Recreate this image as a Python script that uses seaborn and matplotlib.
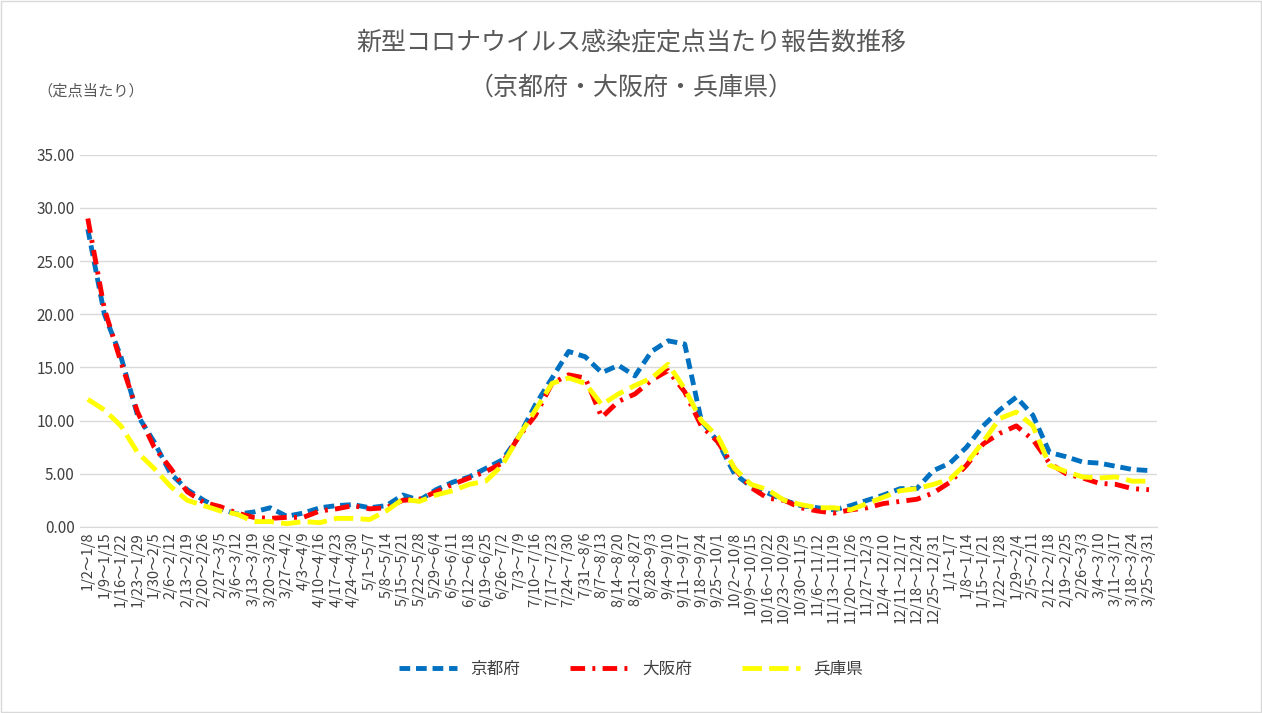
import matplotlib
matplotlib.use("Agg")
import matplotlib.pyplot as plt
import seaborn as sns
import pandas as pd

plt.rcParams["font.family"] = ["Noto Sans CJK JP", "DejaVu Sans"]

weeks = ["1/2～1/8","1/9～1/15","1/16～1/22","1/23～1/29","1/30～2/5","2/6～2/12","2/13～2/19",
 "2/20～2/26","2/27～3/5","3/6～3/12","3/13～3/19","3/20～3/26","3/27～4/2","4/3～4/9",
 "4/10～4/16","4/17～4/23","4/24～4/30","5/1～5/7","5/8～5/14","5/15～5/21","5/22～5/28",
 "5/29～6/4","6/5～6/11","6/12～6/18","6/19～6/25","6/26～7/2","7/3～7/9","7/10～7/16",
 "7/17～7/23","7/24～7/30","7/31～8/6","8/7～8/13","8/14～8/20","8/21～8/27","8/28～9/3",
 "9/4～9/10","9/11～9/17","9/18～9/24","9/25～10/1","10/2～10/8","10/9～10/15","10/16～10/22",
 "10/23～10/29","10/30～11/5","11/6～11/12","11/13～11/19","11/20～11/26","11/27～12/3",
 "12/4～12/10","12/11～12/17","12/18～12/24","12/25～12/31","1/1～1/7","1/8～1/14",
 "1/15～1/21","1/22～1/28","1/29～2/4","2/5～2/11","2/12～2/18","2/19～2/25","2/26～3/3",
 "3/4～3/10","3/11～3/17","3/18～3/24","3/25～3/31"]

kyoto = [28, 20, 16, 10.5, 8, 5, 3.5, 2.5, 1.7, 1.2, 1.4, 1.8, 1.0,
         1.3, 1.8, 2.0, 2.1, 1.8, 2.0, 3.0, 2.5, 3.5, 4.2, 4.7, 5.5, 6.3,
         8.5, 11.5, 14.0, 16.5, 16.0, 14.5, 15.2, 14.2, 16.5, 17.5, 17.2, 10.0, 8.0,
         5.0, 3.8, 3.2, 2.5, 2.0, 1.8, 1.6, 2.0, 2.5, 3.0, 3.6, 3.6, 5.3,
         6.0, 7.5, 9.5, 11.0, 12.2, 10.5, 7.0, 6.6, 6.1, 6.0, 5.7, 5.4, 5.3]
osaka = [29, 20.5, 15.5, 10.8, 7.5, 5.5, 3.3, 2.3, 1.9, 1.3, 0.9, 0.8, 0.9,
         0.9, 1.5, 1.7, 2.0, 1.7, 1.8, 2.5, 2.6, 3.3, 4.0, 4.6, 5.2, 6.0,
         8.5, 10.5, 13.5, 14.3, 14.0, 10.3, 11.8, 12.5, 13.8, 14.7, 12.7, 9.5, 8.0,
         5.5, 3.7, 2.7, 2.5, 1.8, 1.5, 1.3, 1.6, 1.8, 2.2, 2.4, 2.6, 3.2,
         4.2, 5.8, 7.8, 8.8, 9.5, 8.2, 6.0, 5.0, 4.6, 4.1, 4.0, 3.6, 3.5]
hyogo = [12, 11, 9.5, 7, 5.5, 3.8, 2.5, 2.0, 1.5, 1.2, 0.5, 0.5, 0.3,
         0.5, 0.4, 0.8, 0.8, 0.7, 1.5, 2.6, 2.4, 3.0, 3.4, 4.0, 4.3, 5.8,
         8.5, 11.0, 13.5, 14.0, 13.5, 11.5, 12.5, 13.3, 14.0, 15.3, 13.0, 10.0, 8.5,
         5.5, 4.0, 3.5, 2.5, 2.1, 1.8, 1.8, 1.6, 2.2, 2.8, 3.4, 3.6, 4.0,
         4.5, 6.0, 8.0, 10.2, 10.8, 9.5, 5.8, 5.2, 4.7, 4.6, 4.7, 4.3, 4.3]

series = {"京都府": kyoto, "大阪府": osaka, "兵庫県": hyogo}
colors = {"京都府": "#0070C0", "大阪府": "#FF0000", "兵庫県": "#FFFF00"}
dashes = {"京都府": (2.2, 1.2), "大阪府": (3, 1.5, 0.6, 1.5), "兵庫県": (4, 1.5)}

rows = []
for name, vals in series.items():
    for i, v in enumerate(vals):
        rows.append({"x": i, "value": v, "pref": name})
df = pd.DataFrame(rows)

fig = plt.figure(figsize=(12.62, 7.13), dpi=100)
ax = fig.add_axes([0.063, 0.261, 0.854, 0.522])
sns.lineplot(data=df, x="x", y="value", hue="pref", style="pref",
             palette=colors, dashes=dashes, linewidth=3.5, ax=ax, legend=True)

ax.set_xlim(-0.5, len(weeks) - 0.5)
ax.set_ylim(0, 35)
ax.set_yticks(range(0, 36, 5))
ax.set_yticklabels([f"{v:.2f}" for v in range(0, 36, 5)], fontsize=11, color="#404040")
ax.set_xticks(range(len(weeks)))
ax.set_xticklabels(weeks, rotation=90, fontsize=10.5, color="#404040")
ax.tick_params(length=0)
ax.grid(axis="y", color="#d9d9d9", linewidth=1)
ax.set_axisbelow(True)
for s in ["top", "right", "left"]:
    ax.spines[s].set_visible(False)
ax.spines["bottom"].set_color("#d9d9d9")
ax.set_xlabel("")
ax.set_ylabel("")

h, l = ax.get_legend_handles_labels()
ax.legend(h, l, loc="center", bbox_to_anchor=(0.5, 1 - 669/713), bbox_transform=fig.transFigure,
          ncol=3, frameon=False, fontsize=12, handlelength=3.5, columnspacing=3,
          labelcolor="#404040")

fig.text(0.5, 1 - 43/713, "新型コロナウイルス感染症定点当たり報告数推移", ha="center", va="center",
         fontsize=18, color="#595959")
fig.text(0.5, 1 - 88/713, "（京都府・大阪府・兵庫県）", ha="center", va="center",
         fontsize=18, color="#595959")
fig.text(0.03, 1 - 91/713, "（定点当たり）", ha="left", va="center", fontsize=11, color="#595959")

fig.patches.append(plt.Rectangle((0.001, 0.001), 0.998, 0.998, transform=fig.transFigure,
                                 fill=False, edgecolor="#d9d9d9", linewidth=1))
fig.savefig("out.png", dpi=100)
